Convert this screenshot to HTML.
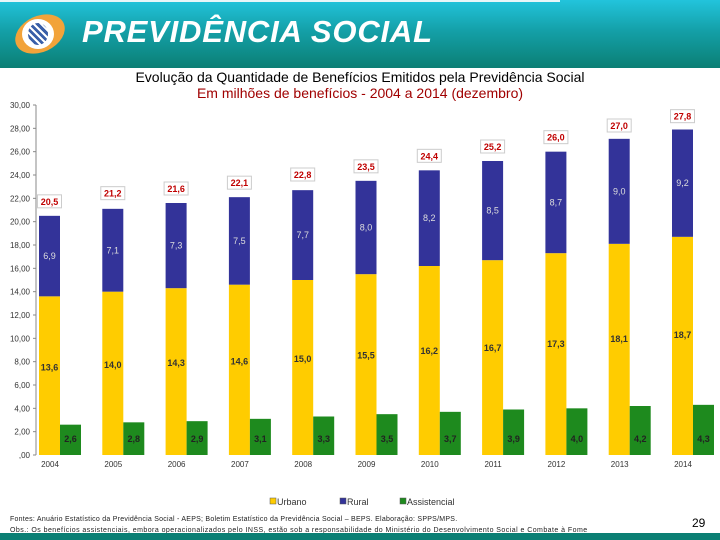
<!DOCTYPE html>
<html><head><meta charset="utf-8"><style>
body{margin:0;width:720px;height:540px;overflow:hidden;background:#fff;font-family:"Liberation Sans",sans-serif;position:relative}
#hdr{position:absolute;left:0;top:0;width:720px;height:68px;background:linear-gradient(180deg,#22c4dc 0%,#14a0a8 45%,#0b7f74 100%)}
#hdr .ln{position:absolute;left:0;top:0;width:560px;height:2px;background:#e8f6f8}
#logo{position:absolute;left:14px;top:16px;width:52px;height:36px;border-radius:50%;background:#f2a33a;transform:rotate(-25deg)}
#logo2{position:absolute;left:22px;top:19px;width:32px;height:30px;border-radius:50%;background:#fff}
#logo3{position:absolute;left:28px;top:23px;width:20px;height:22px;border-radius:50%;background:repeating-linear-gradient(45deg,#3a5fa8 0 3px,#fff 3px 5px)}
#brand{position:absolute;left:82px;top:14px;color:#fff;font-size:31px;font-weight:bold;font-style:italic;letter-spacing:0.8px}
#t1{position:absolute;left:0;width:720px;top:69px;text-align:center;font-size:14px;color:#000}
#t2{position:absolute;left:0;width:720px;top:85px;text-align:center;font-size:14px;color:#a00000}
#foot{position:absolute;left:10px;top:514px;font-size:7px;line-height:11px;color:#222;white-space:nowrap}
#f1{letter-spacing:0.25px}
#f2{letter-spacing:0.45px}
#pg{position:absolute;left:692px;top:516px;font-size:12px}
#bot{position:absolute;left:0;top:533px;width:720px;height:7px;background:#0b7f74}
</style></head><body>
<div id="hdr"><div class="ln"></div>
<div id="logo"></div><div id="logo2"></div><div id="logo3"></div>
<div id="brand">PREVIDÊNCIA SOCIAL</div></div>
<div id="t1">Evolução da Quantidade de Benefícios Emitidos pela Previdência Social</div>
<div id="t2">Em milhões de benefícios - 2004 a 2014 (dezembro)</div>
<svg id="chart" width="720" height="540" style="position:absolute;left:0;top:0" font-family="Liberation Sans, sans-serif"></svg>
<div id="foot"><span id="f1">Fontes: Anuário Estatístico da Previdência Social - AEPS; Boletim Estatístico da Previdência Social – BEPS. Elaboração: SPPS/MPS.</span><br><span id="f2">Obs.: Os benefícios assistenciais, embora operacionalizados pelo INSS, estão sob a responsabilidade do Ministério do Desenvolvimento Social e Combate à Fome</span></div>
<div id="pg">29</div>
<div id="bot"></div>
<script>
const years=["2004","2005","2006","2007","2008","2009","2010","2011","2012","2013","2014"];
const urbano=[13.6,14.0,14.3,14.6,15.0,15.5,16.2,16.7,17.3,18.1,18.7];
const rural=[6.9,7.1,7.3,7.5,7.7,8.0,8.2,8.5,8.7,9.0,9.2];
const totals=[20.5,21.2,21.6,22.1,22.8,23.5,24.4,25.2,26.0,27.0,27.8];
const assist=[2.6,2.8,2.9,3.1,3.3,3.5,3.7,3.9,4.0,4.2,4.3];
const ticks=[0,2,4,6,8,10,12,14,16,18,20,22,24,26,28,30];
const NS="http://www.w3.org/2000/svg";
const svg=document.getElementById('chart');
const y=v=>455-v*350/30;
const xc=i=>60+i*63.3;
const fmt=v=>v.toFixed(1).replace('.',',');
function mk(t,a,p){const e=document.createElementNS(NS,t);for(const k in a)e.setAttribute(k,a[k]);(p||svg).appendChild(e);return e;}
ticks.forEach(t=>{const tx=mk('text',{x:30,y:y(t)+3,'text-anchor':'end','font-size':8,fill:'#333'});tx.textContent=t===0?',00':t.toFixed(2).replace('.',',');


mk('line',{x1:33,x2:36,y1:y(t),y2:y(t),stroke:'#888'});});
mk('line',{x1:36,x2:36,y1:y(30),y2:y(0),stroke:'#888'});
years.forEach((yr,i)=>{
 const c=xc(i),w=21;
 const u=mk('rect',{x:c-w,y:y(urbano[i]),width:w,height:y(0)-y(urbano[i]),fill:'#FFCC00'});
 
 
 const r=mk('rect',{x:c-w,y:y(urbano[i]+rural[i]),width:w,height:y(urbano[i])-y(urbano[i]+rural[i]),fill:'#333399'});
 
 
 const a=mk('rect',{x:c,y:y(assist[i]),width:w,height:y(0)-y(assist[i]),fill:'#1E8A1E'});
 
 
 const ul=mk('text',{x:c-w/2,y:y(urbano[i]*0.55)+3,'text-anchor':'middle','font-size':9,'font-weight':'bold',fill:'#333'});ul.textContent=fmt(urbano[i]);
 const rl=mk('text',{x:c-w/2,y:y(urbano[i]+rural[i]*0.5)+3,'text-anchor':'middle','font-size':9,fill:'#ddd'});rl.textContent=fmt(rural[i]);
 const al=mk('text',{x:c+w/2,y:y(0)-13,'text-anchor':'middle','font-size':9,'font-weight':'bold',fill:'#222'});al.textContent=fmt(assist[i]);
 const ty=y(totals[i])-13;
 mk('rect',{x:c-w/2-12,y:ty-8,width:24,height:13,fill:'#fff',stroke:'#ccc'});
 const tl=mk('text',{x:c-w/2,y:ty+2,'text-anchor':'middle','font-size':9,'font-weight':'bold',fill:'#c00000'});tl.textContent=fmt(totals[i]);
 
 
 const xl=mk('text',{x:c-10,y:467,'text-anchor':'middle','font-size':8,fill:'#333'});xl.textContent=yr;
 
 
});
const leg=[["Urbano","#FFCC00",270],["Rural","#333399",340],["Assistencial","#1E8A1E",400]];
leg.forEach(l=>{const g=mk('g',{});


mk('rect',{x:l[2],y:498,width:6,height:6,fill:l[1],stroke:'#555','stroke-width':0.5},g);
const t=mk('text',{x:l[2]+7,y:505,'font-size':9,fill:'#333'},g);t.textContent=l[0];});
</script>
</body></html>
